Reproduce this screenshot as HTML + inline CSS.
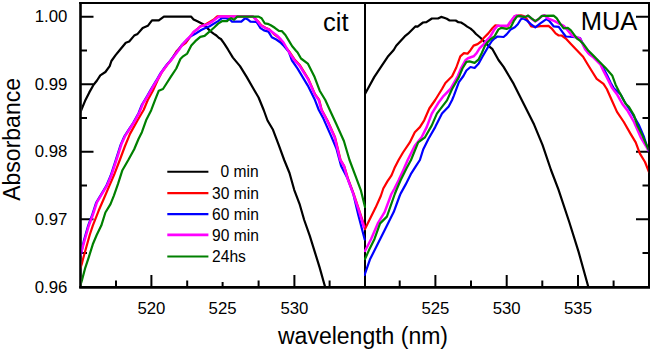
<!DOCTYPE html>
<html><head><meta charset="utf-8"><style>
html,body{margin:0;padding:0;background:#fff;}
body{width:656px;height:354px;overflow:hidden;font-family:"Liberation Sans",sans-serif;}
svg{display:block;}
text{font-family:"Liberation Sans",sans-serif;}
</style></head><body>
<svg width="656" height="354" viewBox="0 0 656 354" font-family="Liberation Sans, sans-serif" fill="#000"><defs><clipPath id="cl"><rect x="81.6" y="4" width="284.4" height="282"/></clipPath><clipPath id="cr"><rect x="364" y="4" width="284.2" height="282"/></clipPath></defs><line x1="80.5" y1="1.9" x2="80.5" y2="288" stroke="#000" stroke-width="2.6"/><line x1="79.2" y1="3" x2="650" y2="3" stroke="#000" stroke-width="2"/><line x1="79.2" y1="287.4" x2="650" y2="287.4" stroke="#000" stroke-width="2.6"/><line x1="365" y1="2" x2="365" y2="288" stroke="#000" stroke-width="2"/><line x1="649" y1="2" x2="649" y2="288" stroke="#000" stroke-width="2"/><line x1="80.5" y1="16.75" x2="93.5" y2="16.75" stroke="#000" stroke-width="2"/><line x1="636" y1="16.75" x2="649" y2="16.75" stroke="#000" stroke-width="2"/><line x1="80.5" y1="84.25" x2="93.5" y2="84.25" stroke="#000" stroke-width="2"/><line x1="636" y1="84.25" x2="649" y2="84.25" stroke="#000" stroke-width="2"/><line x1="80.5" y1="151.75" x2="93.5" y2="151.75" stroke="#000" stroke-width="2"/><line x1="636" y1="151.75" x2="649" y2="151.75" stroke="#000" stroke-width="2"/><line x1="80.5" y1="219.25" x2="93.5" y2="219.25" stroke="#000" stroke-width="2"/><line x1="636" y1="219.25" x2="649" y2="219.25" stroke="#000" stroke-width="2"/><line x1="80.5" y1="50.5" x2="87" y2="50.5" stroke="#000" stroke-width="2"/><line x1="642.5" y1="50.5" x2="649" y2="50.5" stroke="#000" stroke-width="2"/><line x1="80.5" y1="118" x2="87" y2="118" stroke="#000" stroke-width="2"/><line x1="642.5" y1="118" x2="649" y2="118" stroke="#000" stroke-width="2"/><line x1="80.5" y1="185.5" x2="87" y2="185.5" stroke="#000" stroke-width="2"/><line x1="642.5" y1="185.5" x2="649" y2="185.5" stroke="#000" stroke-width="2"/><line x1="80.5" y1="253" x2="87" y2="253" stroke="#000" stroke-width="2"/><line x1="642.5" y1="253" x2="649" y2="253" stroke="#000" stroke-width="2"/><line x1="151.4" y1="287" x2="151.4" y2="275" stroke="#000" stroke-width="2"/><line x1="294.4" y1="287" x2="294.4" y2="275" stroke="#000" stroke-width="2"/><line x1="435.4" y1="287" x2="435.4" y2="275" stroke="#000" stroke-width="2"/><line x1="506.7" y1="287" x2="506.7" y2="275" stroke="#000" stroke-width="2"/><line x1="578" y1="287" x2="578" y2="275" stroke="#000" stroke-width="2"/><line x1="222.6" y1="287" x2="222.6" y2="282" stroke="#000" stroke-width="2"/><line x1="116" y1="287" x2="116" y2="280.5" stroke="#000" stroke-width="2"/><line x1="187.2" y1="287" x2="187.2" y2="280.5" stroke="#000" stroke-width="2"/><line x1="258.6" y1="287" x2="258.6" y2="280.5" stroke="#000" stroke-width="2"/><line x1="329.6" y1="287" x2="329.6" y2="280.5" stroke="#000" stroke-width="2"/><line x1="399.7" y1="287" x2="399.7" y2="280.5" stroke="#000" stroke-width="2"/><line x1="471" y1="287" x2="471" y2="280.5" stroke="#000" stroke-width="2"/><line x1="542.3" y1="287" x2="542.3" y2="280.5" stroke="#000" stroke-width="2"/><line x1="613.6" y1="287" x2="613.6" y2="280.5" stroke="#000" stroke-width="2"/><g clip-path="url(#cl)"><polyline points="80.5,112.0 81.7,109.0 85.1,100.8 89.3,92.4 93.6,84.7 97.0,80.5 100.3,75.4 105.4,72.0 109.7,66.1 111.4,61.0 115.6,55.1 119.8,50.0 125.8,42.7 129.2,41.5 134.2,35.6 137.6,33.9 142.7,28.0 147.8,25.8 152.0,20.3 158.8,20.3 163.9,16.6 191.0,16.6 193.6,19.4 196.9,21.1 200.3,22.8 203.7,24.5 207.1,27.9 210.5,31.3 213.9,33.8 216.4,35.5 219.0,38.0 220.9,39.0 223.9,43.1 227.8,49.2 232.9,57.6 240.0,66.1 246.8,77.1 253.6,89.0 258.6,97.5 263.7,110.0 267.5,120.5 273.0,129.8 278.6,144.7 284.2,160.0 289.5,173.0 294.2,189.8 299.8,204.7 304.2,220.0 309.8,235.8 314.7,251.6 319.6,267.4 324.6,285.2 325.2,287.0" fill="none" stroke="#000000" stroke-width="2.2" stroke-linejoin="round" stroke-linecap="round"/><polyline points="80.5,268.0 81.8,264.0 82.9,259.5 85.8,249.0 89.7,235.0 92.8,225.6 98.6,210.8 103.7,199.0 108.8,187.1 113.9,175.3 119.8,160.0 125.0,146.0 130.0,133.9 137.6,120.3 143.6,110.0 147.8,100.0 152.9,90.7 157.5,80.5 162.0,72.0 167.3,64.5 171.5,59.5 176.3,51.6 181.0,46.5 185.8,42.8 190.0,37.0 193.6,32.1 196.9,29.3 200.3,26.3 205.4,24.5 209.7,21.9 213.9,19.4 217.3,16.4 253.0,16.6 255.0,18.2 258.0,21.2 261.2,25.3 265.5,27.8 269.5,29.6 273.6,33.8 278.6,37.5 282.0,42.5 285.5,47.0 290.0,52.5 295.0,60.0 300.0,65.3 308.3,78.8 315.0,94.1 319.2,100.0 321.8,110.0 327.5,120.5 335.0,137.3 340.6,160.0 344.2,166.0 348.0,178.6 353.6,193.6 359.2,210.3 363.8,224.0 365.0,228.0" fill="none" stroke="#ff0000" stroke-width="2.2" stroke-linejoin="round" stroke-linecap="round"/><polyline points="80.5,255.5 81.5,252.0 83.9,240.5 87.9,226.5 92.0,215.5 96.1,202.9 101.2,194.4 106.3,185.9 110.6,175.8 115.6,160.5 120.7,144.6 124.1,136.9 128.4,130.2 133.4,122.5 138.5,113.2 141.9,104.7 147.0,96.3 151.7,88.0 155.9,81.2 160.6,73.1 166.0,65.7 170.1,60.9 174.2,55.5 178.3,50.1 181.7,45.0 184.2,42.6 190.3,36.5 195.3,33.8 201.2,30.0 205.4,27.9 209.7,26.2 213.9,23.6 218.1,21.1 221.9,18.2 226.0,18.2 230.1,19.7 232.1,21.7 241.3,21.7 245.3,18.2 247.4,19.2 250.4,21.7 256.5,21.9 258.5,25.0 260.5,28.2 263.9,30.4 268.4,31.6 271.8,37.2 276.3,39.5 280.9,42.9 284.2,46.2 288.8,51.9 291.0,58.0 292.0,60.5 297.6,68.6 307.8,85.6 314.6,99.2 318.8,110.0 323.4,118.6 330.8,135.4 336.4,148.5 341.1,166.0 347.6,178.6 353.2,193.6 358.3,215.0 364.7,239.5" fill="none" stroke="#0000ff" stroke-width="2.2" stroke-linejoin="round" stroke-linecap="round"/><polyline points="80.5,255.0 81.5,251.5 84.7,240.0 88.7,226.0 92.8,215.0 96.9,202.4 102.0,193.9 107.1,185.4 111.4,175.3 116.4,160.0 121.5,144.1 124.9,136.4 129.2,129.7 134.2,122.0 139.3,112.7 142.7,104.2 147.8,95.8 152.5,87.5 156.7,80.7 161.4,72.6 166.8,65.2 170.9,60.4 175.0,55.0 179.1,49.6 182.5,44.5 186.8,39.7 190.2,36.3 193.6,32.1 196.9,29.6 200.3,26.6 204.6,25.3 208.8,23.6 213.0,21.1 217.3,17.7 219.0,16.6 253.0,16.6 254.5,18.2 257.5,21.2 260.6,25.3 264.7,27.8 268.7,29.4 272.8,32.4 276.9,35.5 280.9,39.5 283.5,42.5 289.2,52.5 294.2,60.0 299.3,65.3 307.8,78.8 314.6,94.1 318.7,100.0 321.4,110.0 327.1,120.5 334.6,137.3 340.2,160.0 343.9,166.0 347.6,178.6 353.2,193.6 358.8,210.3 363.5,226.0 365.0,229.0" fill="none" stroke="#ff00ff" stroke-width="2.5" stroke-linejoin="round" stroke-linecap="round"/><polyline points="80.5,285.0 81.9,280.5 85.0,268.7 88.9,256.8 92.8,244.3 96.7,235.0 101.3,225.6 105.4,212.5 110.5,204.1 113.9,195.6 118.1,183.7 122.4,170.2 128.3,160.0 134.2,149.2 138.5,139.0 141.9,132.2 146.1,120.3 151.2,110.2 155.4,99.2 158.8,90.7 163.0,89.0 166.2,84.0 170.9,76.7 176.3,68.5 180.4,59.0 183.1,56.3 187.2,53.6 191.3,45.5 195.3,41.2 200.3,36.8 204.6,35.9 208.0,32.9 211.4,30.0 214.7,27.0 218.1,23.6 221.9,21.2 227.0,21.2 229.1,19.2 231.1,18.2 234.1,19.7 237.2,16.6 258.6,16.6 261.6,18.2 264.7,23.3 267.7,23.8 270.8,25.3 274.8,27.8 278.9,30.9 282.0,31.2 285.4,35.0 288.8,40.6 292.2,46.2 296.0,50.8 297.6,52.5 301.0,58.5 307.8,63.6 314.6,77.1 319.7,90.7 325.3,100.0 329.8,110.0 336.4,124.2 343.9,141.0 349.5,160.0 355.1,174.9 360.7,189.8 365.0,207.0" fill="none" stroke="#008000" stroke-width="2.2" stroke-linejoin="round" stroke-linecap="round"/></g><g clip-path="url(#cr)"><polyline points="365.0,94.0 369.1,86.4 374.2,77.1 381.0,66.9 387.7,56.8 393.7,50.0 396.2,45.8 404.7,36.4 408.1,33.7 415.6,26.3 417.6,26.6 423.0,22.5 426.4,22.2 431.9,18.5 438.0,18.5 441.1,16.9 444.1,17.8 446.8,18.8 449.6,20.5 455.7,20.5 458.4,22.2 461.1,22.5 464.5,24.6 467.2,26.6 470.6,28.6 473.3,31.0 476.0,34.0 480.2,37.5 485.3,42.6 488.8,46.1 492.5,49.2 498.5,60.0 503.6,66.9 513.7,83.9 523.9,104.2 534.1,124.6 542.5,144.9 551.0,170.0 558.4,189.4 569.4,222.5 578.6,251.9 587.8,285.0 588.3,287.0" fill="none" stroke="#000000" stroke-width="2.2" stroke-linejoin="round" stroke-linecap="round"/><polyline points="365.0,229.0 369.9,218.9 375.6,207.6 380.8,196.0 383.3,188.5 387.4,181.4 391.5,175.3 394.5,168.1 398.6,160.0 403.0,152.5 409.8,142.4 414.8,132.2 419.9,127.1 424.2,120.3 429.3,108.5 435.2,100.0 442.0,89.0 445.4,83.0 452.1,76.3 456.3,67.5 460.3,56.3 463.9,53.2 467.5,53.7 470.5,50.2 473.6,45.6 477.6,44.1 481.7,41.0 483.2,38.5 488.3,33.4 492.4,28.3 495.4,25.3 499.5,25.8 507.6,26.3 510.7,22.2 514.8,16.1 520.9,15.3 523.9,16.1 527.0,19.2 530.0,24.5 531.2,26.3 535.3,26.8 540.3,26.1 548.5,25.8 551.5,28.3 555.6,33.4 558.7,35.5 561.7,35.5 565.8,38.5 570.9,44.0 575.9,49.2 583.1,56.8 588.2,65.3 592.4,72.0 596.7,78.8 603.5,83.9 606.8,89.0 611.9,100.5 617.0,111.9 623.8,122.0 630.6,133.9 635.7,142.4 639.9,153.6 645.0,162.0 649.0,172.0" fill="none" stroke="#ff0000" stroke-width="2.2" stroke-linejoin="round" stroke-linecap="round"/><polyline points="364.6,275.0 369.9,259.6 376.7,246.0 384.6,230.2 393.7,212.1 399.6,196.0 400.6,193.6 405.7,184.4 410.8,174.2 415.9,166.1 419.9,160.0 423.3,149.2 428.4,139.0 435.2,127.1 442.0,113.6 448.7,106.4 452.1,100.0 453.8,95.8 458.9,82.2 463.4,76.0 466.4,70.5 470.5,67.0 474.6,68.0 478.7,63.4 482.7,56.3 486.8,49.2 489.8,44.1 491.9,41.0 494.4,38.5 497.5,36.5 503.6,37.0 506.6,34.4 510.7,29.4 514.8,27.3 517.8,24.3 520.9,19.2 522.9,18.4 527.0,20.6 531.2,24.3 535.3,27.3 540.3,23.3 546.4,19.2 549.5,21.2 553.6,26.3 558.7,26.8 562.7,32.4 565.8,36.5 572.9,37.0 577.0,37.5 580.0,38.0 584.0,46.0 588.5,53.2 593.0,56.5 597.0,59.8 600.5,63.5 603.7,68.8 607.0,75.0 610.5,82.5 614.0,88.5 617.5,91.5 620.7,94.5 624.1,101.0 628.9,108.5 632.3,113.6 639.1,125.4 644.1,137.3 648.4,150.8 649.0,151.0" fill="none" stroke="#0000ff" stroke-width="2.2" stroke-linejoin="round" stroke-linecap="round"/><polyline points="365.0,251.0 371.0,239.2 377.8,223.4 384.6,212.1 391.4,194.0 394.5,188.5 398.6,180.3 403.7,169.2 407.7,160.0 414.8,145.8 421.6,137.3 426.7,127.1 431.8,113.6 438.6,102.5 443.7,95.8 450.4,89.0 457.8,76.0 461.4,67.5 465.4,60.3 468.0,58.3 473.6,56.3 476.6,53.2 479.7,48.1 484.0,44.0 486.0,41.0 490.3,36.5 494.4,29.4 497.5,25.8 507.6,25.8 510.7,21.2 514.8,16.1 516.8,15.5 518.8,15.9 524.9,17.2 528.1,15.8 531.2,18.4 535.3,21.4 538.3,19.4 541.9,16.1 544.4,15.3 548.5,18.7 554.6,21.2 558.7,23.3 563.7,25.8 567.8,30.4 571.9,35.5 577.0,37.5 580.0,38.5 585.1,49.1 589.0,54.0 593.6,57.6 600.3,64.3 603.5,71.0 607.1,77.9 612.2,88.1 617.3,94.8 622.4,104.0 627.2,110.2 634.0,122.0 640.7,137.3 649.0,151.0" fill="none" stroke="#ff00ff" stroke-width="2.5" stroke-linejoin="round" stroke-linecap="round"/><polyline points="365.0,259.0 368.8,250.6 374.4,239.2 380.1,223.4 386.9,216.6 394.8,194.0 396.6,189.5 400.6,180.3 406.7,168.1 411.0,160.0 418.2,142.4 425.0,137.3 431.8,125.4 436.9,113.6 442.0,106.8 447.0,100.4 452.1,89.0 458.9,77.1 462.4,68.5 466.4,61.9 469.5,61.4 474.6,62.9 478.7,59.3 481.7,53.2 484.8,46.1 487.8,42.0 490.3,39.5 494.4,36.5 498.5,29.4 501.5,27.8 506.6,28.9 510.7,27.3 513.7,21.2 516.8,16.6 518.8,15.9 524.9,17.2 528.1,15.6 531.2,18.2 535.3,21.2 538.3,19.2 541.9,15.9 553.6,15.6 556.6,18.2 560.7,24.3 563.7,28.3 567.8,27.8 570.9,30.4 573.9,34.4 577.0,38.5 580.0,40.6 583.4,44.0 588.5,50.8 593.6,55.9 598.6,61.0 605.4,67.7 612.2,75.4 615.6,84.7 619.0,91.5 622.5,98.0 625.8,104.0 628.9,106.8 634.0,115.3 637.4,125.4 642.4,135.6 648.4,149.2 649.0,150.0" fill="none" stroke="#008000" stroke-width="2.2" stroke-linejoin="round" stroke-linecap="round"/></g><line x1="167.3" y1="171.75" x2="208.4" y2="171.75" stroke="#000000" stroke-width="2.1"/><text x="220.6" y="177.4" font-size="15.6">0 min</text><line x1="167.3" y1="193.1" x2="208.4" y2="193.1" stroke="#ff0000" stroke-width="2.1"/><text x="212.1" y="198.8" font-size="15.6">30 min</text><line x1="167.3" y1="214.1" x2="208.4" y2="214.1" stroke="#0000ff" stroke-width="2.1"/><text x="212.1" y="219.8" font-size="15.6">60 min</text><line x1="167.3" y1="234.9" x2="208.4" y2="234.9" stroke="#ff00ff" stroke-width="2.6"/><text x="212.1" y="240.6" font-size="15.6">90 min</text><line x1="167.3" y1="256.5" x2="208.4" y2="256.5" stroke="#008000" stroke-width="2.1"/><text x="212.1" y="262.2" font-size="15.6">24hs</text><text x="67.4" y="21.80" font-size="16.8" text-anchor="end">1.00</text><text x="67.4" y="89.52" font-size="16.8" text-anchor="end">0.99</text><text x="67.4" y="157.24" font-size="16.8" text-anchor="end">0.98</text><text x="67.4" y="224.96" font-size="16.8" text-anchor="end">0.97</text><text x="67.4" y="292.68" font-size="16.8" text-anchor="end">0.96</text><text x="151.4" y="314.2" font-size="16.8" text-anchor="middle">520</text><text x="222.6" y="314.2" font-size="16.8" text-anchor="middle">525</text><text x="294.4" y="314.2" font-size="16.8" text-anchor="middle">530</text><text x="435.4" y="314.2" font-size="16.8" text-anchor="middle">525</text><text x="506.7" y="314.2" font-size="16.8" text-anchor="middle">530</text><text x="578" y="314.2" font-size="16.8" text-anchor="middle">535</text><text x="323" y="31" font-size="25.5">cit</text><text x="580.7" y="30.3" font-size="25.5">MUA</text><text transform="translate(20.1,139.4) rotate(-90)" font-size="23" text-anchor="middle">Absorbance</text><text x="278" y="343.8" font-size="23">wavelength (nm)</text></svg>
</body></html>
